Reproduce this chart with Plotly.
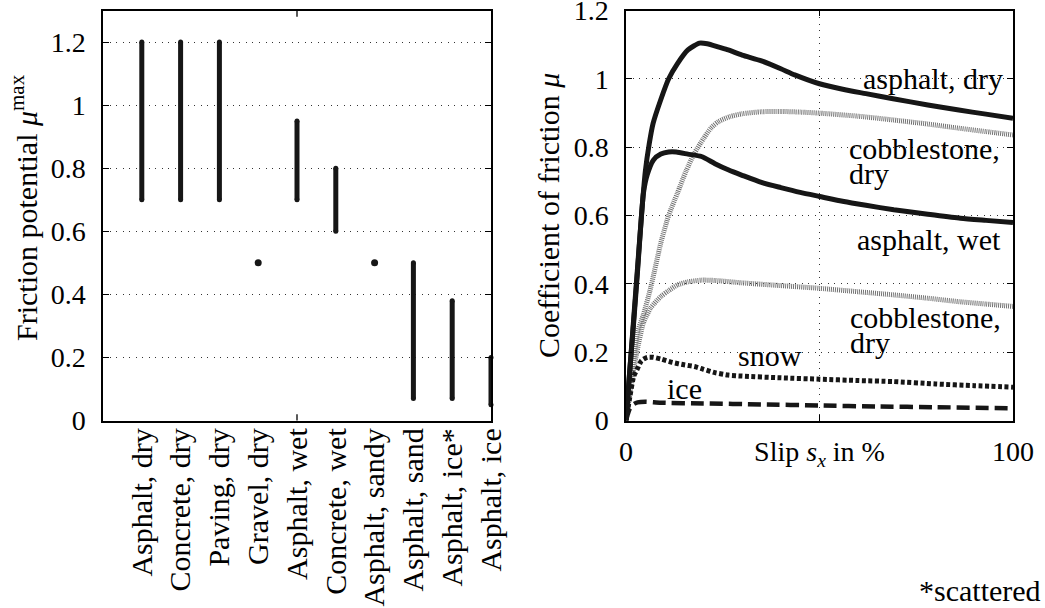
import plotly.graph_objects as go

# ---- left panel: friction potential per road surface ----
surfaces = ["Asphalt, dry", "Concrete, dry", "Paving, dry", "Gravel, dry",
            "Asphalt, wet", "Concrete, wet", "Asphalt, sandy", "Asphalt, sand",
            "Asphalt, ice*", "Asphalt, ice"]
mu_low = [0.70, 0.70, 0.70, 0.50, 0.70, 0.60, 0.50, 0.07, 0.07, 0.05]
mu_high = [1.20, 1.20, 1.20, 0.50, 0.95, 0.80, 0.50, 0.50, 0.38, 0.20]

# ---- right panel: friction-slip curves ----
slip_asphalt_dry = [0, 1, 2, 3, 4, 5, 6, 7, 9, 11, 13.3, 16, 19, 21, 24, 26.4, 30, 35, 40,
                    43.6, 50, 56, 62, 69, 78, 86, 93, 100]
mu_asphalt_dry = [0, 0.15, 0.29, 0.44, 0.60, 0.73, 0.81, 0.87, 0.94, 1.00, 1.045, 1.085,
                  1.105, 1.103, 1.093, 1.085, 1.07, 1.053, 1.03, 1.012, 0.986, 0.97, 0.957,
                  0.942, 0.924, 0.909, 0.897, 0.885]

slip_asphalt_wet = [0, 1, 2, 3, 4, 4.5, 5.5, 7.1, 9, 11, 13, 16, 19.5, 23, 26.4, 30, 35, 40,
                    45, 50, 56.3, 62, 69.2, 78, 86.4, 93, 100]
mu_asphalt_wet = [0, 0.15, 0.30, 0.45, 0.60, 0.666, 0.72, 0.763, 0.78, 0.786, 0.786, 0.78,
                  0.773, 0.752, 0.734, 0.718, 0.697, 0.682, 0.668, 0.656, 0.641, 0.63,
                  0.617, 0.604, 0.592, 0.586, 0.58]

slip_cobble_hi = [0, 1, 2, 3, 4.5, 6.4, 9, 11, 13.3, 15.5, 17.7, 20, 22, 24, 26.9, 30, 35,
                  40, 45, 50, 60, 69, 78, 86, 93, 100]
mu_cobble_hi = [0, 0.09, 0.18, 0.26, 0.31, 0.39, 0.52, 0.60, 0.666, 0.73, 0.783, 0.825,
                0.857, 0.876, 0.89, 0.898, 0.904, 0.905, 0.903, 0.90, 0.891, 0.88, 0.868,
                0.856, 0.846, 0.836]

slip_cobble_lo = [0, 1, 2, 2.8, 4.5, 6.4, 9, 11, 13.3, 16, 19.5, 23, 30, 40, 50, 60, 69, 78,
                  86, 93, 100]
mu_cobble_lo = [0, 0.08, 0.15, 0.20, 0.286, 0.33, 0.363, 0.38, 0.397, 0.406, 0.411, 0.41,
                0.403, 0.395, 0.387, 0.377, 0.368, 0.358, 0.348, 0.341, 0.334]

slip_snow = [0, 1, 2, 2.8, 4, 5.5, 7, 9, 12, 15, 17.7, 20, 23, 26.4, 30, 40, 50, 60, 69, 80,
             90, 100]
mu_snow = [0, 0.07, 0.13, 0.148, 0.175, 0.185, 0.185, 0.18, 0.17, 0.163, 0.158, 0.15, 0.14,
           0.133, 0.13, 0.125, 0.121, 0.117, 0.114, 0.107, 0.102, 0.0975]

slip_ice = [0, 0.5, 1, 2, 3, 5, 9, 20, 35, 50, 65, 80, 100]
mu_ice = [0, 0.02, 0.035, 0.048, 0.053, 0.055, 0.052, 0.05, 0.047, 0.044, 0.041, 0.039, 0.036]

FONT = "Liberation Serif, DejaVu Serif, Times New Roman, serif"
FS_NUM = 28     # numeric tick labels
FS_TXT = 30     # words
INK = "#161616"

fig = go.Figure()

# range bars (round ends via end markers), single values as dots
for i, (lo, hi) in enumerate(zip(mu_low, mu_high), start=1):
    if lo == hi:
        fig.add_trace(go.Scatter(x=[i], y=[lo], mode="markers",
                                 marker=dict(size=7, color=INK), cliponaxis=False,
                                 showlegend=False, xaxis="x", yaxis="y"))
    else:
        fig.add_trace(go.Scatter(x=[i, i], y=[lo, hi], mode="lines+markers",
                                 line=dict(color=INK, width=5),
                                 marker=dict(size=5, color=INK), cliponaxis=False,
                                 showlegend=False, xaxis="x", yaxis="y"))

curves = [
    (slip_cobble_hi, mu_cobble_hi, dict(color="#737373", width=5, dash="1px,1px")),
    (slip_cobble_lo, mu_cobble_lo, dict(color="#737373", width=5, dash="1px,1px")),
    (slip_asphalt_wet, mu_asphalt_wet, dict(color=INK, width=5)),
    (slip_asphalt_dry, mu_asphalt_dry, dict(color=INK, width=5)),
    (slip_snow, mu_snow, dict(color=INK, width=5, dash="4px,2.5px")),
    (slip_ice, mu_ice, dict(color=INK, width=4.5, dash="13px,6px")),
]
for xs, ys, ln in curves:
    fig.add_trace(go.Scatter(x=xs, y=ys, mode="lines",
                             line=dict(shape="spline", smoothing=0.6, **ln),
                             showlegend=False, xaxis="x2", yaxis="y2"))

grid = dict(showgrid=True, gridcolor="#333333", gridwidth=1.2, griddash="1px,5.5px")
frame = dict(showline=True, linecolor="black", linewidth=1.5, mirror="ticks",
             zeroline=False, automargin=False, ticklabeloverflow="allow")
numfont = dict(family=FONT, size=FS_NUM, color="black")
txtfont = dict(family=FONT, size=FS_TXT, color="black")

ydom = [1 - 420.5 / 608, 1 - 10.5 / 608]
mu_ticks = [0, 0.2, 0.4, 0.6, 0.8, 1.0, 1.2]
mu_labels = ["0", "0.2", "0.4", "0.6", "0.8", "1", "1.2"]

fig.update_layout(
    width=1045, height=608,
    margin=dict(l=0, r=0, t=0, b=0),
    paper_bgcolor="white", plot_bgcolor="white",
    font=dict(family=FONT, size=FS_NUM, color="black"),
    xaxis=dict(domain=[103 / 1045, 491 / 1045], range=[0, 10],
               tickmode="array", tickvals=list(range(1, len(surfaces) + 1)),
               ticktext=surfaces, tickangle=-90, ticks="", showgrid=False,
               ticklabelstandoff=-6, tickfont=txtfont, **frame),
    yaxis=dict(domain=ydom, range=[0, 1.3], tickmode="array",
               tickvals=mu_ticks, ticktext=mu_labels,
               ticks="inside", ticklen=6, tickwidth=1.3, tickcolor="black",
               ticklabelstandoff=10, tickfont=numfont, **grid, **frame),
    xaxis2=dict(domain=[626 / 1045, 1013 / 1045], range=[0, 100], anchor="y2",
                tickmode="array", tickvals=[0, 50, 100],
                ticktext=["0", "Slip <i>s</i><sub><i>x</i></sub> in %", "100"],
                ticks="inside", ticklen=6, tickwidth=1.3, tickcolor="black",
                ticklabelstandoff=5, tickfont=numfont, **grid, **frame),
    yaxis2=dict(domain=ydom, range=[0, 1.2005], anchor="x2", tickmode="array",
                tickvals=mu_ticks, ticktext=mu_labels,
                ticks="inside", ticklen=6, tickwidth=1.3, tickcolor="black",
                ticklabelstandoff=10, tickfont=numfont, **grid, **frame),
)

# tick marks at the middle of the left x axis
for y0, y1 in [(0, 0.015), (0.985, 1)]:
    fig.add_shape(type="line", xref="x", yref="y domain", x0=5, x1=5, y0=y0, y1=y1,
                  line=dict(color="black", width=1.3))

ann = [
    dict(text="Friction potential <i>μ</i><sup>max</sup>", xref="paper", yref="paper",
         x=24 / 1045, y=1 - 208 / 608, textangle=-90, xanchor="center", yanchor="middle"),
    dict(text="Coefficient of friction <i>μ</i>", xref="paper", yref="paper",
         x=548 / 1045, y=1 - 216 / 608, textangle=-90, xanchor="center", yanchor="middle"),
    dict(text="*scattered", xref="paper", yref="paper", x=1043 / 1045, y=1 - 590 / 608,
         xanchor="right", yanchor="middle"),
    dict(text="asphalt, dry", xref="x2", yref="y2", x=98, y=1.0, xanchor="right", yanchor="middle"),
    dict(text="cobblestone,", xref="x2", yref="y2", x=57, y=0.795, xanchor="left", yanchor="middle"),
    dict(text="dry", xref="x2", yref="y2", x=57, y=0.722, xanchor="left", yanchor="middle"),
    dict(text="asphalt, wet", xref="x2", yref="y2", x=97.5, y=0.53, xanchor="right", yanchor="middle"),
    dict(text="cobblestone,", xref="x2", yref="y2", x=57.3, y=0.302, xanchor="left", yanchor="middle"),
    dict(text="dry", xref="x2", yref="y2", x=57.3, y=0.229, xanchor="left", yanchor="middle"),
    dict(text="snow", xref="x2", yref="y2", x=28.5, y=0.19, xanchor="left", yanchor="middle"),
    dict(text="ice", xref="x2", yref="y2", x=10.2, y=0.095, xanchor="left", yanchor="middle"),
]
for a in ann:
    fig.add_annotation(showarrow=False, font=txtfont, **a)

fig.write_html("out.html")
